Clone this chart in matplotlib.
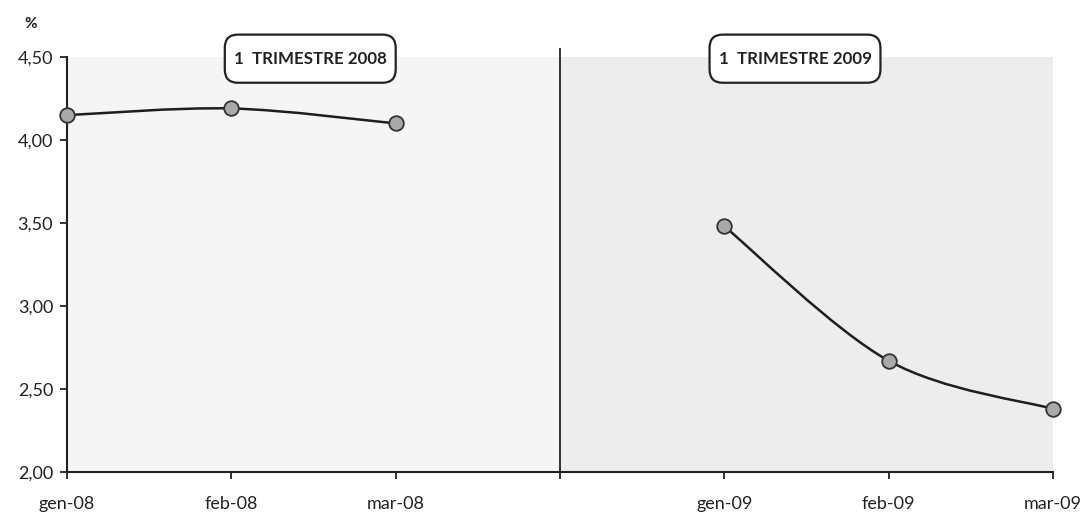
import matplotlib
matplotlib.use("Agg")
from matplotlib import pyplot as plt
from matplotlib.path import Path
from matplotlib.patches import PathPatch, FancyBboxPatch

# data
months_08 = ["gen-08", "feb-08", "mar-08"]
months_09 = ["gen-09", "feb-09", "mar-09"]
values_08 = [4.15, 4.19, 4.10]
values_09 = [3.48, 2.67, 2.38]
y_ticks = [2.00, 2.50, 3.00, 3.50, 4.00, 4.50]
panel_titles = ["1  TRIMESTRE 2008", "1  TRIMESTRE 2009"]

x_08 = [0, 1, 2]
x_09 = [4, 5, 6]
divider = 3

plt.rcParams['font.family'] = ['Lato', 'DejaVu Sans']


def smooth_path(xs, ys):
    # Bezier control points (Catmull-Rom style) like Excel's smoothed line
    pts = list(zip(xs, ys))
    verts = [pts[0]]
    codes = [Path.MOVETO]
    n = len(pts)
    for i in range(n - 1):
        p0 = pts[i - 1] if i > 0 else pts[i]
        p1 = pts[i]
        p2 = pts[i + 1]
        p3 = pts[i + 2] if i + 2 < n else pts[i + 1]
        c1 = (p1[0] + (p2[0] - p0[0]) / 6, p1[1] + (p2[1] - p0[1]) / 6)
        c2 = (p2[0] - (p3[0] - p1[0]) / 6, p2[1] - (p3[1] - p1[1]) / 6)
        verts += [c1, c2, p2]
        codes += [Path.CURVE4] * 3
    return Path(verts, codes)


fig = plt.figure(figsize=(10.83, 5.16), dpi=100)
ax = fig.add_axes([0.0619, 0.0853, 0.9104, 0.8042])

ax.set_xlim(0, 6)
ax.set_ylim(2.0, 4.5)

# panel backgrounds
ax.axvspan(0, divider, color="#f5f5f5", zorder=0, lw=0)
ax.axvspan(divider, 6, color="#ededed", zorder=0, lw=0)
ax.axvline(divider, color="#222222", lw=1.3, ymax=1.02, clip_on=False, zorder=2)

for xs, ys in [(x_08, values_08), (x_09, values_09)]:
    ax.add_patch(PathPatch(smooth_path(xs, ys), fill=False, edgecolor="#1e1e1e", lw=1.8, zorder=3))
    ax.plot(xs, ys, linestyle="none", marker="o", markersize=10.5, clip_on=False,
            markerfacecolor="#a9a9a9", markeredgecolor="#333333", markeredgewidth=1.3, zorder=4)

ax.set_xticks(x_08 + [divider] + x_09)
ax.set_xticklabels(months_08 + [""] + months_09)
ax.set_yticks(y_ticks)
ax.set_yticklabels([f"{v:.2f}".replace(".", ",") for v in y_ticks])
ax.tick_params(axis="both", direction="out", length=5, width=1.3, color="#222222",
               labelsize=13, labelcolor="#222222")
ax.tick_params(axis="x", pad=12)
ax.tick_params(axis="y", pad=5)

for side in ["top", "right"]:
    ax.spines[side].set_visible(False)
for side in ["left", "bottom"]:
    ax.spines[side].set_linewidth(1.5)
    ax.spines[side].set_color("#222222")

ax.text(-0.22, 4.70, "%", fontsize=11, fontweight="bold", color="#222222",
        ha="center", va="center", clip_on=False)

# rounded title boxes above each quarter
box_left = [0.96, 3.91]
box_width = 1.04
for x0, title in zip(box_left, panel_titles):
    ax.add_patch(FancyBboxPatch((x0, 4.345), box_width, 0.29,
                                boxstyle="round,pad=0,rounding_size=0.08",
                                facecolor="white", edgecolor="#222222", lw=1.6,
                                clip_on=False, zorder=5))
    ax.text(x0 + box_width / 2, 4.487, title, fontsize=12.2, fontweight="bold",
            color="#222222", ha="center", va="center", zorder=6, clip_on=False)

plt.savefig("out.png", dpi=100)
